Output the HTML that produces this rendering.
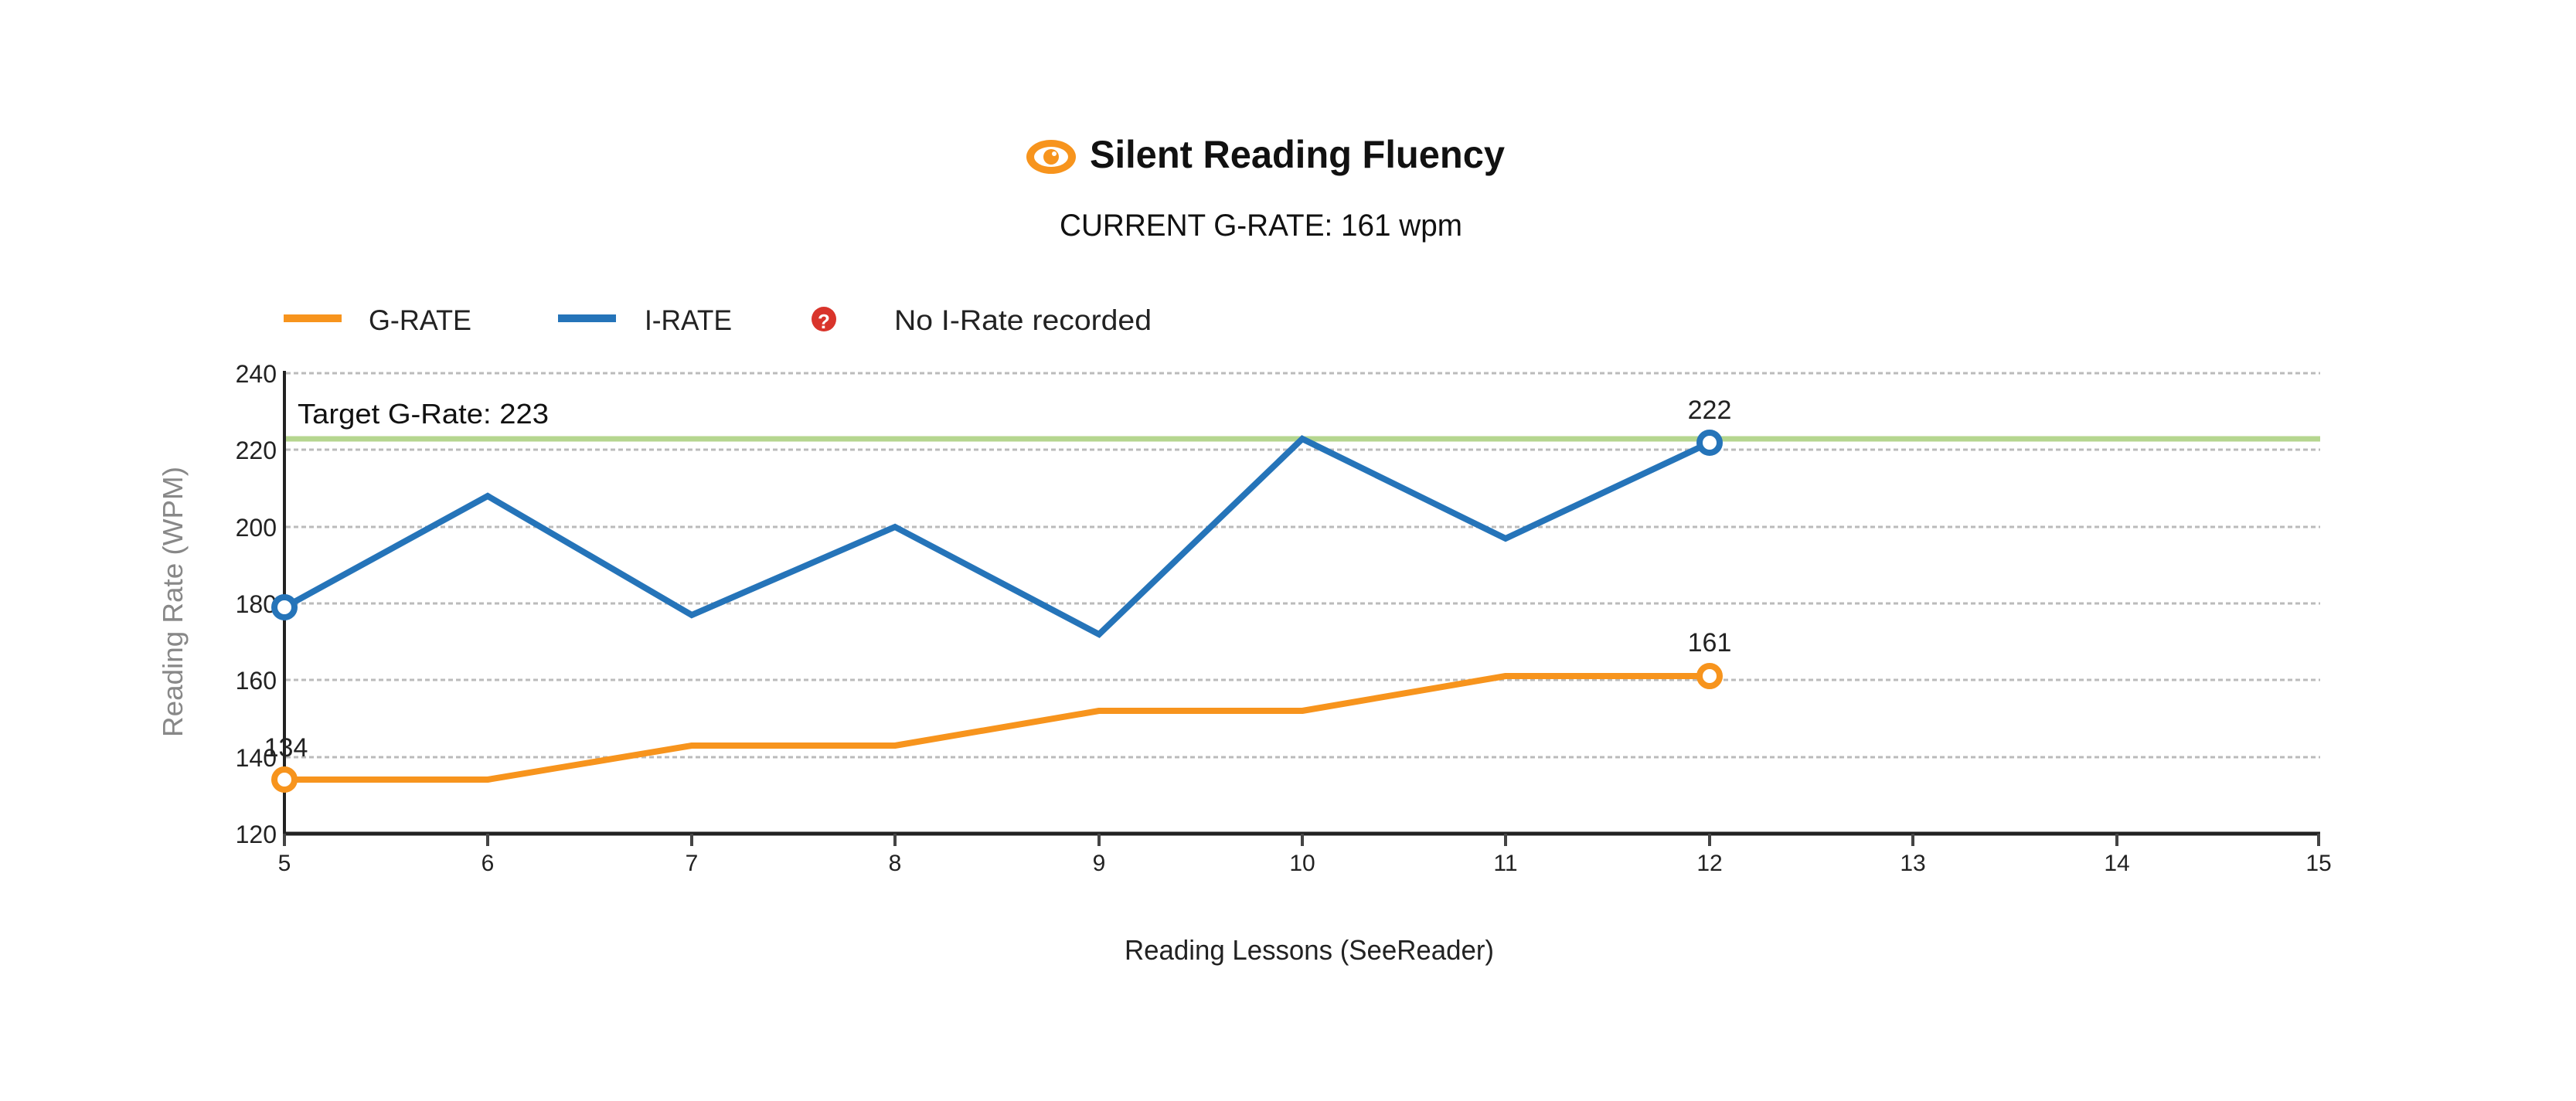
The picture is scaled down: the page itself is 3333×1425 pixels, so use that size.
<!DOCTYPE html>
<html><head><meta charset="utf-8"><style>html,body{margin:0;padding:0;background:#fff;}svg{display:block;}</style></head><body>
<svg width="3333" height="1425" xmlns="http://www.w3.org/2000/svg" font-family="Liberation Sans, sans-serif">
<rect width="3333" height="1425" fill="#fff"/>
<!-- title -->
<g transform="translate(1360,203)">
<ellipse cx="0" cy="0" rx="32" ry="22" fill="#f7941d"/>
<ellipse cx="0" cy="0" rx="22" ry="13" fill="#fff"/>
<circle cx="0" cy="0" r="10" fill="#f7941d"/>
<circle cx="4" cy="-4" r="3" fill="#fff"/>
</g>
<text x="1410" y="217" font-size="50" font-weight="bold" fill="#111" textLength="537" lengthAdjust="spacingAndGlyphs">Silent Reading Fluency</text>
<text x="1371" y="305" font-size="40" fill="#111" textLength="521" lengthAdjust="spacingAndGlyphs">CURRENT G-RATE: 161 wpm</text>
<!-- legend -->
<rect x="367" y="407" width="75" height="10" fill="#f7941d"/>
<text x="477" y="427" font-size="37" fill="#222" textLength="133" lengthAdjust="spacingAndGlyphs">G-RATE</text>
<rect x="722" y="407" width="75" height="10" fill="#2574b9"/>
<text x="834" y="427" font-size="37" fill="#222" textLength="113" lengthAdjust="spacingAndGlyphs">I-RATE</text>
<circle cx="1066" cy="413" r="16" fill="#d9342b"/>
<text x="1066" y="425" font-size="26" font-weight="bold" fill="#fff" text-anchor="middle">?</text>
<text x="1157" y="427" font-size="37" fill="#222" textLength="333" lengthAdjust="spacingAndGlyphs">No I-Rate recorded</text>
<!-- grid -->
<g stroke="#bbb" stroke-width="3" stroke-dasharray="6 4">
<line x1="370" x2="3002" y1="483" y2="483"/>
<line x1="370" x2="3002" y1="582" y2="582"/>
<line x1="370" x2="3002" y1="682" y2="682"/>
<line x1="370" x2="3002" y1="781" y2="781"/>
<line x1="370" x2="3002" y1="880" y2="880"/>
<line x1="370" x2="3002" y1="980" y2="980"/>
</g>
<line x1="370" x2="3002" y1="568" y2="568" stroke="#b5d68f" stroke-width="7"/>
<text x="385" y="548" font-size="36" fill="#111" textLength="325" lengthAdjust="spacingAndGlyphs">Target G-Rate: 223</text>
<!-- axes -->
<line x1="368" y1="480" x2="368" y2="1081" stroke="#222" stroke-width="4"/>
<line x1="366" y1="1079" x2="3002" y2="1079" stroke="#222" stroke-width="5"/>
<g stroke="#444" stroke-width="4">
<line x1="368" x2="368" y1="1079" y2="1095"/><line x1="631" x2="631" y1="1079" y2="1095"/>
<line x1="895" x2="895" y1="1079" y2="1095"/><line x1="1158" x2="1158" y1="1079" y2="1095"/>
<line x1="1422" x2="1422" y1="1079" y2="1095"/><line x1="1685" x2="1685" y1="1079" y2="1095"/>
<line x1="1948" x2="1948" y1="1079" y2="1095"/><line x1="2212" x2="2212" y1="1079" y2="1095"/>
<line x1="2475" x2="2475" y1="1079" y2="1095"/><line x1="2739" x2="2739" y1="1079" y2="1095"/>
<line x1="3000" x2="3000" y1="1079" y2="1095"/>
</g>
<g font-size="32" fill="#222" text-anchor="end">
<text x="358" y="495">240</text><text x="358" y="594">220</text><text x="358" y="694">200</text>
<text x="358" y="793">180</text><text x="358" y="892">160</text><text x="358" y="992">140</text><text x="358" y="1091">120</text>
</g>
<g font-size="30" fill="#222" text-anchor="middle">
<text x="368" y="1127">5</text><text x="631" y="1127">6</text><text x="895" y="1127">7</text><text x="1158" y="1127">8</text>
<text x="1422" y="1127">9</text><text x="1685" y="1127">10</text><text x="1948" y="1127">11</text><text x="2212" y="1127">12</text>
<text x="2475" y="1127">13</text><text x="2739" y="1127">14</text><text x="3000" y="1127">15</text>
</g>
<text transform="translate(236,779) rotate(-90)" font-size="36" fill="#888" text-anchor="middle" textLength="350" lengthAdjust="spacingAndGlyphs">Reading Rate (WPM)</text>
<text x="1694" y="1242" font-size="36" fill="#222" text-anchor="middle" textLength="478" lengthAdjust="spacingAndGlyphs">Reading Lessons (SeeReader)</text>
<!-- series -->
<polyline fill="none" stroke="#f7941d" stroke-width="8" stroke-linejoin="round" points="368,1009 631,1009 895,965 1158,965 1422,920 1685,920 1948,875 2212,875"/>
<polyline fill="none" stroke="#2574b9" stroke-width="8" stroke-linejoin="miter" points="368,786 631,642 895,796 1158,682 1422,821 1685,568 1948,697 2212,573"/>
<circle cx="368" cy="1009" r="13" fill="#fff" stroke="#f7941d" stroke-width="8"/>
<circle cx="2212" cy="875" r="13" fill="#fff" stroke="#f7941d" stroke-width="8"/>
<circle cx="368" cy="786" r="13" fill="#fff" stroke="#2574b9" stroke-width="8"/>
<circle cx="2212" cy="573" r="13" fill="#fff" stroke="#2574b9" stroke-width="8"/>
<g font-size="34" fill="#222" text-anchor="middle">
<text x="2212" y="542">222</text><text x="2212" y="843">161</text><text x="370" y="979">134</text>
</g>
</svg>
</body></html>
